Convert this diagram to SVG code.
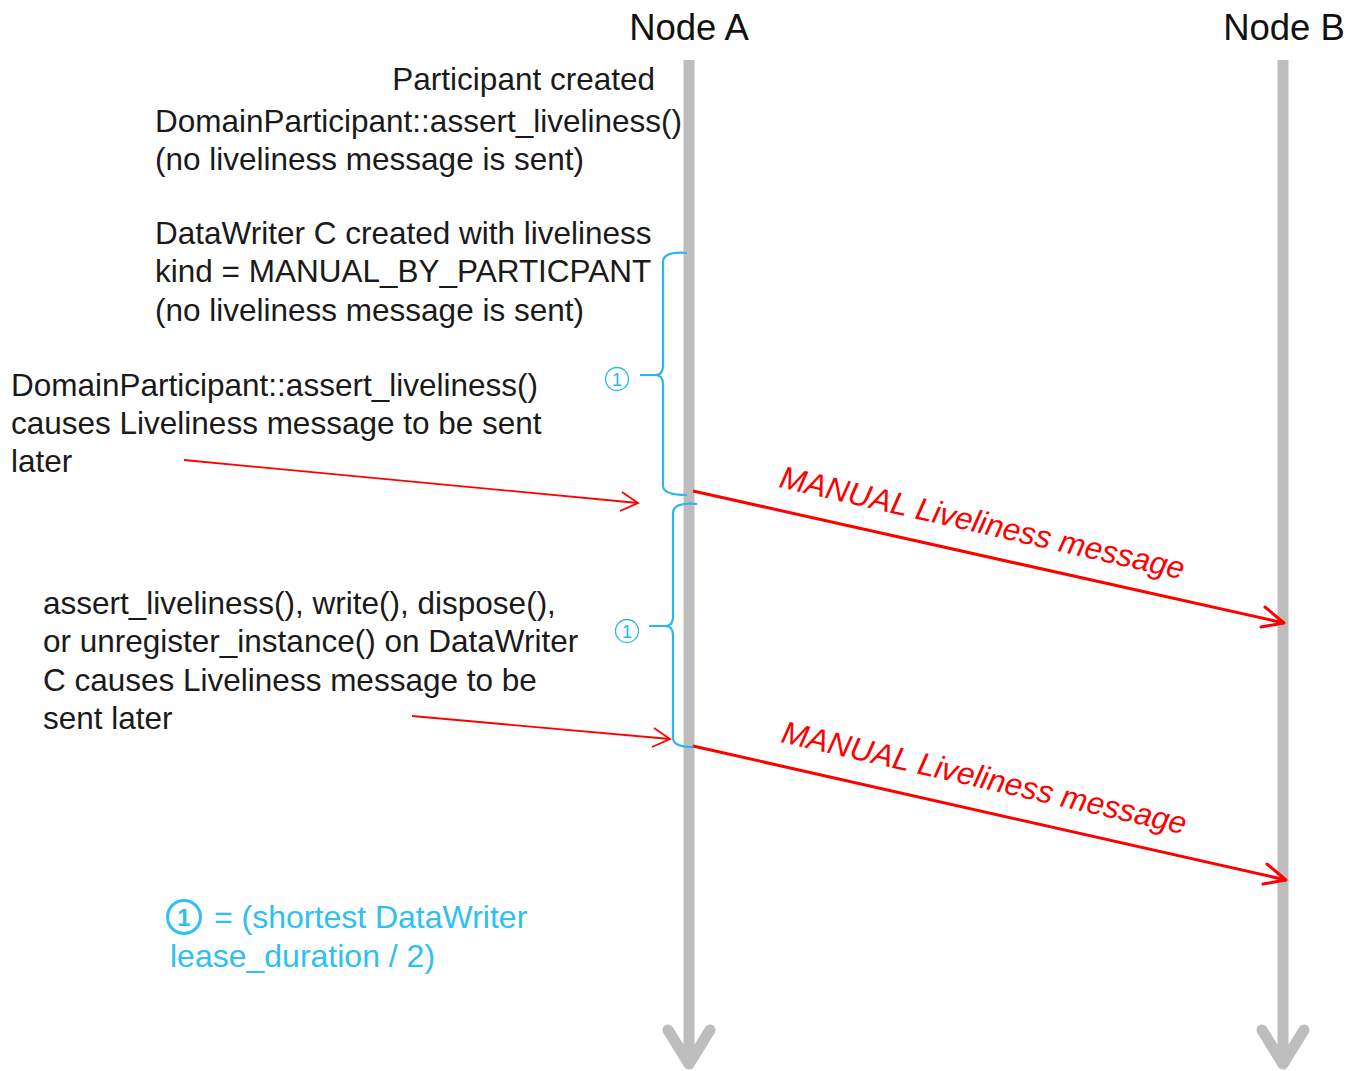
<svg xmlns="http://www.w3.org/2000/svg" width="1363" height="1071" viewBox="0 0 1363 1071">
<style>
.t{font-family:"Liberation Sans",Arial,sans-serif;font-size:31.5px;fill:#1a1a1a}
.hd{font-family:"Liberation Sans",Arial,sans-serif;font-size:36.5px;fill:#111}
.msg{font-family:"Liberation Sans",Arial,sans-serif;font-size:31.5px;font-style:italic;fill:#ff0000}
.lg{font-family:"Liberation Sans",Arial,sans-serif;font-size:32px;fill:#2ec0f0}
.life{stroke:#bdbdbd;stroke-width:11;fill:none}
.lifeh{stroke:#bdbdbd;stroke-width:11;fill:none;stroke-linecap:round;stroke-linejoin:round}
.red{stroke:#ff0000;stroke-width:3;fill:none}
.redh{stroke:#ff0000;stroke-width:3;fill:none;stroke-linecap:round;stroke-linejoin:round}
.thin{stroke:#ff0000;stroke-width:1.8;fill:none}
.brace{stroke:#29b6ef;stroke-width:2.2;fill:none}
.c1{font-family:"Liberation Sans",Arial,sans-serif;font-size:18px;fill:#29b6ef}
</style>
<rect width="1363" height="1071" fill="#fff"/>
<g id="nodeA">
<text class="hd" x="689" y="40" text-anchor="middle">Node A</text>
<line class="life" x1="689" y1="60" x2="689" y2="1062"/>
<polyline class="lifeh" points="668,1030 689,1064 710,1030"/>
</g>
<g id="nodeB">
<text class="hd" x="1284" y="40" text-anchor="middle">Node B</text>
<line class="life" x1="1283" y1="60" x2="1283" y2="1062"/>
<polyline class="lifeh" points="1262,1030 1283,1064 1304,1030"/>
</g>
<g id="notes">
<text class="t" x="655" y="90" text-anchor="end">Participant created</text>
<text class="t" x="155" y="132">DomainParticipant::assert_liveliness()</text>
<text class="t" x="155" y="170">(no liveliness message is sent)</text>
<text class="t" x="155" y="244">DataWriter C created with liveliness</text>
<text class="t" x="155" y="282">kind = MANUAL_BY_PARTICPANT</text>
<text class="t" x="155" y="321">(no liveliness message is sent)</text>
<text class="t" x="11" y="396">DomainParticipant::assert_liveliness()</text>
<text class="t" x="11" y="434">causes Liveliness message to be sent</text>
<text class="t" x="11" y="472">later</text>
<text class="t" x="43" y="614">assert_liveliness(), write(), dispose(),</text>
<text class="t" x="43" y="652">or unregister_instance() on DataWriter</text>
<text class="t" x="43" y="691">C causes Liveliness message to be</text>
<text class="t" x="43" y="729">sent later</text>
</g>
<g id="brace1">
<path class="brace" d="M687,253 Q663,251 663,262 L663,366 Q663,375 655,375 L640,375 M655,375 Q663,375 663,384 L663,486 Q663,495 687,495"/>
<circle cx="617" cy="379" r="11.5" fill="none" stroke="#29b6ef" stroke-width="1.3"/>
<text class="c1" x="617" y="386" text-anchor="middle">1</text>
</g>
<g id="brace2">
<path class="brace" d="M697,504 Q673,502 673,513 L673,617 Q673,626 665,626 L649,626 M665,626 Q673,626 673,635 L673,738 Q673,747 693,747"/>
<circle cx="627" cy="631" r="11.5" fill="none" stroke="#29b6ef" stroke-width="1.3"/>
<text class="c1" x="627" y="638" text-anchor="middle">1</text>
</g>
<g id="legend">
<circle cx="184" cy="917" r="16.5" fill="none" stroke="#2ec0f0" stroke-width="3"/>
<text x="184" y="926" text-anchor="middle" style="font-family:'Liberation Sans',Arial,sans-serif;font-size:24px;font-weight:bold;fill:#2ec0f0">1</text>
<text class="lg" x="214" y="928">= (shortest DataWriter</text>
<text class="lg" x="170" y="967">lease_duration / 2)</text>
</g>
<g id="connectors">
<line class="red" x1="693" y1="491" x2="1284" y2="623"/>
<polyline class="redh" points="1265,607 1284,623 1261,627"/>
<text class="msg" transform="translate(778,487) rotate(12.9)">MANUAL Liveliness message</text>
<line class="red" x1="693" y1="746" x2="1286" y2="880"/>
<polyline class="redh" points="1267,864 1286,880 1263,884"/>
<text class="msg" transform="translate(780,742) rotate(12.9)">MANUAL Liveliness message</text>
<line class="thin" x1="184" y1="460" x2="638" y2="503"/>
<polyline class="thin" points="622,492 638,503 620,511"/>
<line class="thin" x1="412" y1="716" x2="670" y2="739"/>
<polyline class="thin" points="654,728 670,739 652,747"/>
</g>
</svg>
